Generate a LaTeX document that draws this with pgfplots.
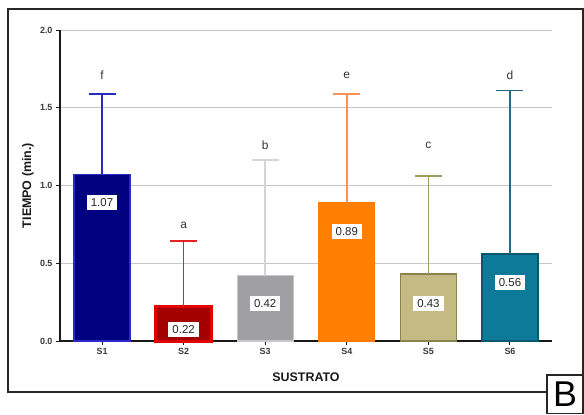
\documentclass[border=0pt]{standalone}
\usepackage{fontspec}
\setmainfont{Liberation Sans}
\usepackage{pgfplots}
\pgfplotsset{compat=1.18}

\definecolor{sA}{HTML}{000080}\definecolor{sAe}{HTML}{2A2AC8}\definecolor{sAr}{HTML}{2A2AC8}
\definecolor{sB}{HTML}{A50000}\definecolor{sBe}{HTML}{E00000}\definecolor{sBr}{HTML}{E82020}
\definecolor{sC}{HTML}{A0A0A4}\definecolor{sCe}{HTML}{C8C8C8}\definecolor{sCr}{HTML}{D4D4D4}
\definecolor{sD}{HTML}{FF8000}\definecolor{sDe}{HTML}{FF7A00}\definecolor{sDr}{HTML}{FF9050}
\definecolor{sE}{HTML}{C4BA84}\definecolor{sEe}{HTML}{8C8450}\definecolor{sEr}{HTML}{A09A60}
\definecolor{sF}{HTML}{0C7A98}\definecolor{sFe}{HTML}{0A5870}\definecolor{sFr}{HTML}{2A6A80}
\definecolor{ticktext}{HTML}{3A3A3A}

% one bar with its upper error whisker: fill, edge, whisker colour, edge width
\pgfplotsset{
  sbar/.style n args={4}{
    fill=#1, draw=#2, line width=#4,
    error bars/.cd, y dir=plus, y explicit,
    error bar style={draw=#3, line width=1.6bp},
    error mark options={rotate=90, mark size=13.5bp, line width=1.6bp, draw=#3},
  },
}

\begin{document}
\begin{tikzpicture}[x=1bp,y=1bp]
\useasboundingbox (0,0) rectangle (584,-414);
\draw[line width=1.4bp, black!85] (8,-9) rectangle (583,-392);
\begin{axis}[
  at={(60bp,-341bp)}, anchor=south west,
  width=492bp, height=311bp, scale only axis,
  xmin=-0.515, xmax=5.515, ymin=0, ymax=2,
  axis lines*=left,
  axis line style={line width=1.2bp, black!90},
  ybar, bar width=56bp, bar shift=0pt,
  xtick={0,1,2,3,4,5},
  xticklabels={S1,S2,S3,S4,S5,S6},
  ytick={0,0.5,1,1.5,2},
  tick align=outside, major tick length=4bp,
  tick style={line width=1bp, black!90},
  ymajorgrids, grid style={line width=0.8bp, black!22},
  /pgf/number format/assume math mode=true,
  yticklabel style={/pgf/number format/fixed, /pgf/number format/fixed zerofill, /pgf/number format/precision=1},
  ticklabel style={font=\bfseries\fontsize{9}{10}\selectfont, text=ticktext},
  xlabel={SUSTRATO},
  ylabel={TIEMPO (min.)},
  label style={font=\bfseries\fontsize{12.5}{14}\selectfont, text=black!90},
  xlabel style={at={(axis description cs:0.5,-0.1158)}, anchor=center},
  ylabel style={at={(axis description cs:-0.065,0.5)}, anchor=center},
  clip=false,
]
\addplot[sbar={sA}{sAe}{sAr}{1.2bp}] coordinates {(0,1.07) +- (0,0.518)};
\addplot[sbar={sB}{sBe}{sBr}{3bp}] coordinates {(1,0.22) +- (0,0.425)};
\addplot[sbar={sC}{sCe}{sCr}{1.2bp}] coordinates {(2,0.42) +- (0,0.744)};
\addplot[sbar={sD}{sDe}{sDr}{1.2bp}] coordinates {(3,0.89) +- (0,0.698)};
\addplot[sbar={sE}{sEe}{sEr}{1.6bp}] coordinates {(4,0.43) +- (0,0.633)};
\addplot[sbar={sF}{sFe}{sFr}{1.6bp}] coordinates {(5,0.56) +- (0,1.05)};

% mean values inside the bars
\begin{scope}[every node/.style={fill=white, text=black!85, inner xsep=4bp, inner ysep=3.5bp,
    font=\fontsize{11.5}{12}\selectfont, anchor=center}]
\node[yshift=-28bp] at (axis cs:0,1.07) {1.07};
\node[yshift=-23bp] at (axis cs:1,0.22) {0.22};
\node[yshift=-28bp] at (axis cs:2,0.42) {0.42};
\node[yshift=-29bp] at (axis cs:3,0.89) {0.89};
\node[yshift=-29bp] at (axis cs:4,0.43) {0.43};
\node[yshift=-29bp] at (axis cs:5,0.56) {0.56};
\end{scope}

% significance groups
\begin{scope}[every node/.style={text=black!80, font=\fontsize{12}{12}\selectfont, anchor=center}]
\node at (axis cs:0,1.71) {f};
\node at (axis cs:1,0.746) {a};
\node at (axis cs:2,1.256) {b};
\node at (axis cs:3,1.71) {e};
\node at (axis cs:4,1.256) {c};
\node at (axis cs:5,1.71) {d};
\end{scope}
\end{axis}
\draw[line width=1.4bp, black!85, fill=white] (547,-375) rectangle (583,-413.3);
\node[anchor=center, inner sep=0pt] at (565,-394) {\fontsize{36}{36}\selectfont B};
\end{tikzpicture}
\end{document}
